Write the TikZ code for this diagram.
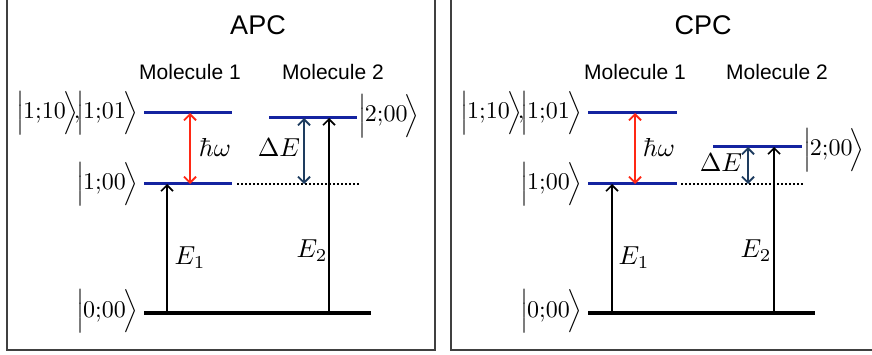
\documentclass[tikz,border=0pt]{standalone}
\usepackage{graphicx}
\usepackage[no-math]{fontspec}
\setmainfont{Liberation Sans}
\usetikzlibrary{arrows.meta}
\definecolor{lvlblue}{RGB}{20,35,160}
\definecolor{hwred}{RGB}{255,40,20}
\definecolor{denavy}{RGB}{30,60,95}
\definecolor{framegray}{RGB}{64,64,64}
\newcommand{\ketm}[1]{\scalebox{2.4}{$\Bigl|\mkern-1mu#1\mkern-2mu\Bigr\rangle$}}
\newcommand{\lblmath}[1]{\scalebox{2.6}{$#1$}}
\tikzset{
  level/.style={line width=3pt, lvlblue},
  ground/.style={line width=3.5pt, black},
  dotline/.style={line width=1.8pt, dash pattern=on 2pt off 2pt},
  tip/.style={-{Straight Barb[length=6pt,width=12pt]}},
  bitip/.style={{Straight Barb[length=6pt,width=12pt]}-{Straight Barb[length=6pt,width=12pt]}},
  excite/.style={line width=1.6pt, black, tip},
  hwarrow/.style={line width=1.8pt, hwred, bitip},
  dearrow/.style={line width=1.8pt, denavy, bitip},
  ket/.style={inner sep=0pt},
  mathlbl/.style={inner sep=0pt},
  title/.style={font=\fontsize{27}{30}\selectfont, inner sep=0pt},
  mol/.style={font=\fontsize{21}{24}\selectfont, inner sep=0pt},
  panelframe/.style={draw=framegray, line width=1.5pt}
}
\begin{document}
\begin{tikzpicture}[x=1pt,y=-1pt]
\useasboundingbox (0,0) rectangle (872,355);
\clip (0,0) rectangle (872,355);
% frames
\draw[panelframe] (7,-10) rectangle (435,350);
\draw[panelframe] (451,-10) rectangle (890,350);

% ===== Left panel (APC) =====
\node[title] (tA) at (258,25) {APC};
\node[mol] (mA1) at (190,72) {Molecule 1};
\node[mol] (mA2) at (333,72) {Molecule 2};
\coordinate (a10L) at (144,113); \coordinate (a10R) at (232,113);
\coordinate (a00L) at (144,184); \coordinate (a00R) at (232,184);
\coordinate (adL) at (237,184); \coordinate (adR) at (360,184);
\coordinate (a2L) at (269,118); \coordinate (a2R) at (357,118);
\coordinate (agL) at (144,313); \coordinate (agR) at (371,313);
\draw[level] (a10L) -- (a10R);
\draw[level] (a00L) -- (a00R);
\draw[level] (a2L) -- (a2R);
\draw[dotline] (adL) -- (adR);
\draw[ground] (agL) -- (agR);
\coordinate (ahT) at (190,113); \coordinate (ahB) at (190,184);
\draw[hwarrow] (ahB) -- (ahT);
\coordinate (adeT) at (304,118); \coordinate (adeB) at (304,184);
\draw[dearrow] (adeB) -- (adeT);
\coordinate (ae1B) at (167,313); \coordinate (ae1T) at (167,184);
\draw[excite] (ae1B) -- (ae1T);
\coordinate (ae2B) at (329,313); \coordinate (ae2T) at (329,118);
\draw[excite] (ae2B) -- (ae2T);
\node[mathlbl] (ahw) at (215,147) {\lblmath{\hbar\omega}};
\node[mathlbl] (ade) at (279,148) {\lblmath{\Delta E}};
\node[mathlbl] (ae1) at (190,258) {\lblmath{E_{1}}};
\node[mathlbl] (ae2) at (312,251) {\lblmath{E_{2}}};
\node[ket, anchor=east] (ak1) at (138,113) {\ketm{1{;}10}\scalebox{2.4}{$\!,\!$}\ketm{1{;}01}};
\node[ket, anchor=east] (ak2) at (138,184) {\ketm{1{;}00}};
\node[ket, anchor=east] (ak3) at (138,311) {\ketm{0{;}00}};
\node[ket, anchor=west] (ak4) at (358,116) {\ketm{2{;}00}};

% ===== Right panel (CPC) =====
\node[title] (tC) at (703,25) {CPC};
\node[mol] (mC1) at (635,72) {Molecule 1};
\node[mol] (mC2) at (777,72) {Molecule 2};
\coordinate (c10L) at (588,113); \coordinate (c10R) at (677,113);
\coordinate (c00L) at (588,184); \coordinate (c00R) at (677,184);
\coordinate (cdL) at (681,184); \coordinate (cdR) at (804,184);
\coordinate (c2L) at (713,147); \coordinate (c2R) at (802,147);
\coordinate (cgL) at (588,313); \coordinate (cgR) at (815,313);
\draw[level] (c10L) -- (c10R);
\draw[level] (c00L) -- (c00R);
\draw[level] (c2L) -- (c2R);
\draw[dotline] (cdL) -- (cdR);
\draw[ground] (cgL) -- (cgR);
\coordinate (chT) at (635,113); \coordinate (chB) at (635,184);
\draw[hwarrow] (chB) -- (chT);
\coordinate (cdeT) at (748,147); \coordinate (cdeB) at (748,184);
\draw[dearrow] (cdeB) -- (cdeT);
\coordinate (ce1B) at (612,313); \coordinate (ce1T) at (612,184);
\draw[excite] (ce1B) -- (ce1T);
\coordinate (ce2B) at (774,313); \coordinate (ce2T) at (774,147);
\draw[excite] (ce2B) -- (ce2T);
\node[mathlbl] (chw) at (659,147) {\lblmath{\hbar\omega}};
\node[mathlbl] (cde) at (721,163) {\lblmath{\Delta E}};
\node[mathlbl] (ce1) at (634,258) {\lblmath{E_{1}}};
\node[mathlbl] (ce2) at (756,251) {\lblmath{E_{2}}};
\node[ket, anchor=east] (ck1) at (582,113) {\ketm{1{;}10}\scalebox{2.4}{$\!,\!$}\ketm{1{;}01}};
\node[ket, anchor=east] (ck2) at (582,184) {\ketm{1{;}00}};
\node[ket, anchor=east] (ck3) at (582,311) {\ketm{0{;}00}};
\node[ket, anchor=west] (ck4) at (803,150) {\ketm{2{;}00}};
\end{tikzpicture}
\end{document}
